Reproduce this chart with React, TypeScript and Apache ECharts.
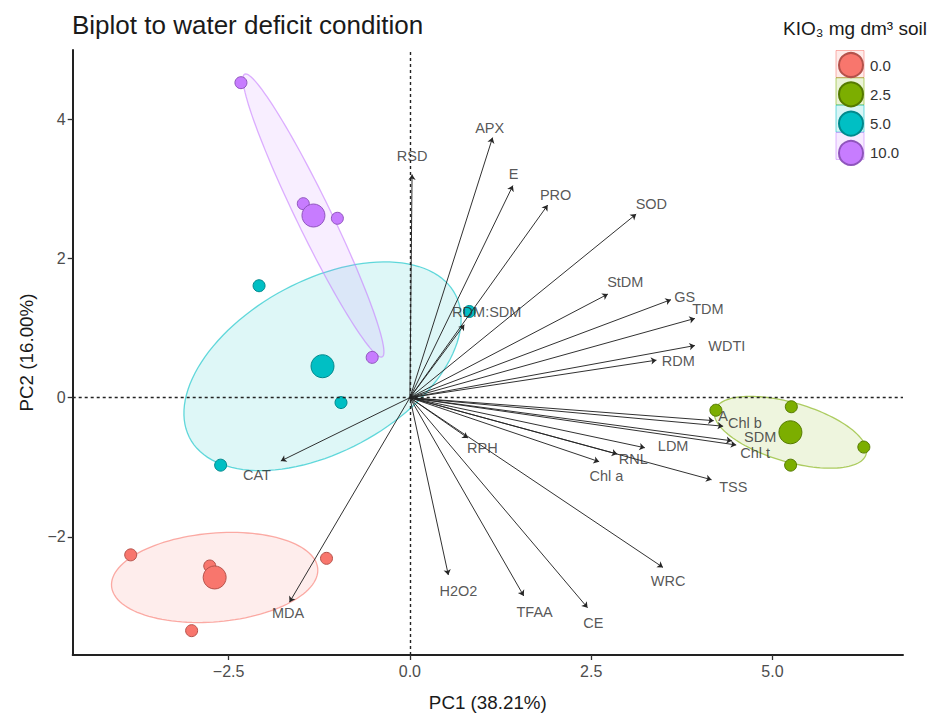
import React, { useEffect, useRef } from "react";
import * as echarts from "echarts";

// ---------- data ----------
const groups = ["0.0", "2.5", "5.0", "10.0"];
const groupColors = ["#F8766D", "#7CAE00", "#00BFC4", "#C77CFF"];
const groupBorders = ["#b5524b", "#557a00", "#00898d", "#8f55bd"];

// individual scores (PC1, PC2) per KIO3 group
const g00PC1 = [-3.85, -1.15, -3.01, -2.76];
const g00PC2 = [-2.26, -2.31, -3.35, -2.42];
const g25PC1 = [4.22, 5.26, 6.26, 5.25];
const g25PC2 = [-0.18, -0.13, -0.71, -0.97];
const g50PC1 = [-2.08, -0.95, -2.61, 0.82];
const g50PC2 = [1.61, -0.07, -0.97, 1.24];
const g10PC1 = [-2.33, -1.47, -1.0, -0.52];
const g10PC2 = [4.53, 2.79, 2.58, 0.58];

const groupPC1 = [g00PC1, g25PC1, g50PC1, g10PC1];
const groupPC2 = [g00PC2, g25PC2, g50PC2, g10PC2];

// variable loadings (arrow tips)
const varNames = [
  "RSD", "APX", "E", "PRO", "SOD", "StDM", "GS", "TDM", "WDTI", "RDM", "RDM:SDM",
  "A", "Chl b", "SDM", "Chl t", "LDM", "RNL", "Chl a", "TSS", "RPH", "WRC", "CE",
  "TFAA", "H2O2", "MDA", "CAT",
];
const loadPC1 = [
  0.03, 1.14, 1.42, 1.9, 3.12, 2.73, 3.6, 3.93, 3.93, 3.4, 0.75,
  4.19, 4.32, 4.44, 4.5, 3.24, 2.86, 2.61, 4.16, 0.8, 3.49, 2.45,
  1.57, 0.53, -1.66, -1.78,
];
const loadPC2 = [
  3.21, 3.74, 3.05, 2.77, 2.64, 1.49, 1.41, 1.14, 0.75, 0.54, 1.05,
  -0.33, -0.41, -0.62, -0.68, -0.72, -0.81, -0.92, -1.18, -0.58, -2.44, -3.02,
  -2.85, -2.55, -2.94, -0.91,
];
// label anchor positions (repelled)
const labelPC1 = [
  0.03, 1.1, 1.43, 2.01, 3.33, 2.97, 3.79, 4.11, 4.37, 3.7, 1.06,
  4.32, 4.62, 4.83, 4.76, 3.63, 3.08, 2.71, 4.46, 1.0, 3.56, 2.53,
  1.72, 0.67, -1.68, -2.11,
];
const labelPC2 = [
  3.47, 3.88, 3.21, 2.92, 2.79, 1.66, 1.45, 1.28, 0.74, 0.53, 1.23,
  -0.27, -0.37, -0.56, -0.8, -0.7, -0.88, -1.13, -1.28, -0.73, -2.63, -3.24,
  -3.08, -2.78, -3.09, -1.11,
];

const xTicks = [-2.5, 0, 2.5, 5];
const yTicks = [-2, 0, 2, 4];

const titleText = "Biplot to water deficit condition";
const legendTitle = "KIO\u2083 mg dm\u00b3 soil";
const xName = "PC1 (38.21%)";
const yName = "PC2 (16.00%)";

// ---------- helpers ----------
const ELLIPSE_SCALE = 1.26;
const FONT = "'Liberation Sans', Arial, Helvetica, sans-serif";

const mean = (a: number[]) => a.reduce((s, v) => s + v, 0) / a.length;

function ellipsePoints(xs: number[], ys: number[], scale: number, n = 120): number[][] {
  const m = xs.length;
  const mx = mean(xs);
  const my = mean(ys);
  let sxx = 0, syy = 0, sxy = 0;
  for (let i = 0; i < m; i++) {
    const dx = xs[i] - mx;
    const dy = ys[i] - my;
    sxx += dx * dx;
    syy += dy * dy;
    sxy += dx * dy;
  }
  sxx /= m - 1;
  syy /= m - 1;
  sxy /= m - 1;
  const tr = sxx + syy;
  const det = sxx * syy - sxy * sxy;
  const d = Math.sqrt(Math.max(tr * tr / 4 - det, 0));
  const l1 = tr / 2 + d;
  const l2 = Math.max(tr / 2 - d, 0);
  const theta = Math.abs(sxy) < 1e-12 ? (sxx >= syy ? 0 : Math.PI / 2) : Math.atan2(l1 - sxx, sxy);
  const a = scale * Math.sqrt(l1);
  const b = scale * Math.sqrt(l2);
  const pts: number[][] = [];
  for (let k = 0; k <= n; k++) {
    const t = (2 * Math.PI * k) / n;
    const ex = a * Math.cos(t);
    const ey = b * Math.sin(t);
    pts.push([
      mx + ex * Math.cos(theta) - ey * Math.sin(theta),
      my + ex * Math.sin(theta) + ey * Math.cos(theta),
    ]);
  }
  return pts;
}

function hexToRgba(hex: string, alpha: number) {
  const h = hex.replace("#", "");
  const r = parseInt(h.slice(0, 2), 16);
  const g = parseInt(h.slice(2, 4), 16);
  const b = parseInt(h.slice(4, 6), 16);
  return `rgba(${r},${g},${b},${alpha})`;
}

const fmtMinus = (s: string) => s.replace("-", "\u2212");

// legend layout
const LEG_LEFT = 838;
const LEG_TOP = 52;
const LEG_ICON = 24;
const LEG_GAP = 3.3;

export default function App() {
  const ref = useRef<HTMLDivElement>(null);

  useEffect(() => {
    if (!ref.current) return;
    const chart = echarts.init(ref.current, undefined, { renderer: "svg" });

    const ellipseSeries = groups.map((g, gi) => {
      const pts = ellipsePoints(groupPC1[gi], groupPC2[gi], ELLIPSE_SCALE);
      return {
        type: "custom",
        name: "ellipse-" + g,
        silent: true,
        z: 1,
        data: [[mean(groupPC1[gi]), mean(groupPC2[gi])]],
        renderItem: (_params: any, api: any) => ({
          type: "polygon",
          shape: { points: pts.map((p) => api.coord(p)) },
          style: {
            fill: hexToRgba(groupColors[gi], 0.13),
            stroke: hexToRgba(groupColors[gi], 0.6),
            lineWidth: 1.3,
          },
        }),
      };
    });

    const pointSeries = groups.map((g, gi) => {
      const xs = groupPC1[gi];
      const ys = groupPC2[gi];
      const data: any[] = xs.map((x, i) => ({ value: [x, ys[i]], symbolSize: 12 }));
      data.push({ value: [mean(xs), mean(ys)], symbolSize: 23 });
      return {
        type: "scatter",
        name: g,
        z: 3,
        symbol: "circle",
        data,
        itemStyle: {
          color: groupColors[gi],
          borderColor: groupBorders[gi],
          borderWidth: 1,
          opacity: 1,
        },
      };
    });

    const arrowSeries = {
      type: "lines",
      coordinateSystem: "cartesian2d",
      silent: true,
      z: 4,
      symbol: ["none", "arrow"],
      symbolSize: 5.5,
      lineStyle: { color: "#262626", width: 0.95, opacity: 1 },
      data: varNames.map((n, i) => ({
        name: n,
        coords: [
          [0, 0],
          [loadPC1[i], loadPC2[i]],
        ],
      })),
    };

    const labelSeries = {
      type: "scatter",
      name: "labels",
      silent: true,
      z: 5,
      symbol: "circle",
      symbolSize: 2,
      itemStyle: { color: "rgba(0,0,0,0)" },
      label: {
        show: true,
        position: "inside",
        formatter: "{b}",
        color: "#2b2b2b",
        fontSize: 14.5,
        fontFamily: FONT,
      },
      labelLayout: { hideOverlap: false },
      data: varNames.map((n, i) => ({ name: n, value: [labelPC1[i], labelPC2[i]] })),
      markLine: {
        silent: true,
        symbol: "none",
        label: { show: false },
        lineStyle: { color: "#222", type: [3, 3], width: 1.4 },
        data: [{ xAxis: 0 }, { yAxis: 0 }],
      },
    };

    const legendBoxes = groups.map((_, gi) => ({
      type: "rect",
      z: 0,
      shape: {
        x: LEG_LEFT - 2,
        y: LEG_TOP - 1.5 + gi * (LEG_ICON + LEG_GAP),
        width: LEG_ICON + 4,
        height: LEG_ICON + 3,
      },
      style: {
        fill: hexToRgba(groupColors[gi], 0.15),
        stroke: hexToRgba(groupColors[gi], 0.55),
        lineWidth: 1,
      },
    }));

    chart.setOption({
      animation: false,
      backgroundColor: "#ffffff",
      textStyle: { fontFamily: FONT },
      title: [
        {
          text: titleText,
          left: 72,
          top: 12,
          padding: 0,
          textStyle: { fontSize: 26, fontWeight: "normal", color: "#1a1a1a", fontFamily: FONT },
        },
        {
          text: legendTitle,
          left: 783,
          top: 19,
          padding: 0,
          textStyle: { fontSize: 19, fontWeight: "normal", color: "#1a1a1a", fontFamily: FONT },
        },
      ],
      legend: {
        data: groups,
        orient: "vertical",
        left: LEG_LEFT,
        top: LEG_TOP,
        padding: 0,
        itemWidth: LEG_ICON,
        itemHeight: LEG_ICON,
        itemGap: LEG_GAP,
        icon: "circle",
        selectedMode: false,
        z: 5,
        textStyle: { fontSize: 15, color: "#333", fontFamily: FONT, padding: [0, 0, 0, 2] },
      },
      graphic: legendBoxes,
      grid: { left: 72.7, right: 30, top: 50, bottom: 59, containLabel: false },
      xAxis: {
        type: "value",
        min: -4.65,
        max: 6.8,
        name: xName,
        nameLocation: "middle",
        nameGap: 38,
        nameTextStyle: { fontSize: 18.8, color: "#1a1a1a", fontFamily: FONT },
        axisLine: { show: true, onZero: false, lineStyle: { color: "#222", width: 2 } },
        axisTick: { show: true, length: 5, customValues: xTicks, lineStyle: { color: "#333", width: 1.3 } },
        axisLabel: {
          customValues: xTicks,
          formatter: (v: number) => fmtMinus(v.toFixed(1)),
          color: "#4d4d4d",
          fontSize: 16,
          margin: 8,
          fontFamily: FONT,
        },
        splitLine: { show: false },
      },
      yAxis: {
        type: "value",
        min: -3.7,
        max: 5.0,
        name: yName,
        nameLocation: "middle",
        nameGap: 37,
        nameRotate: 90,
        nameTextStyle: { fontSize: 18.8, color: "#1a1a1a", fontFamily: FONT },
        axisLine: { show: true, onZero: false, lineStyle: { color: "#222", width: 2 } },
        axisTick: { show: true, length: 5, customValues: yTicks, lineStyle: { color: "#333", width: 1.3 } },
        axisLabel: {
          customValues: yTicks,
          formatter: (v: number) => fmtMinus(String(v)),
          color: "#4d4d4d",
          fontSize: 16,
          margin: 7,
          fontFamily: FONT,
        },
        splitLine: { show: false },
      },
      series: [...ellipseSeries, ...pointSeries, arrowSeries, labelSeries],
    });

    return () => chart.dispose();
  }, []);

  return (
    <div
      ref={ref}
      style={{ position: "absolute", left: 0, top: 0, width: 933, height: 717, background: "#fff" }}
    />
  );
}
